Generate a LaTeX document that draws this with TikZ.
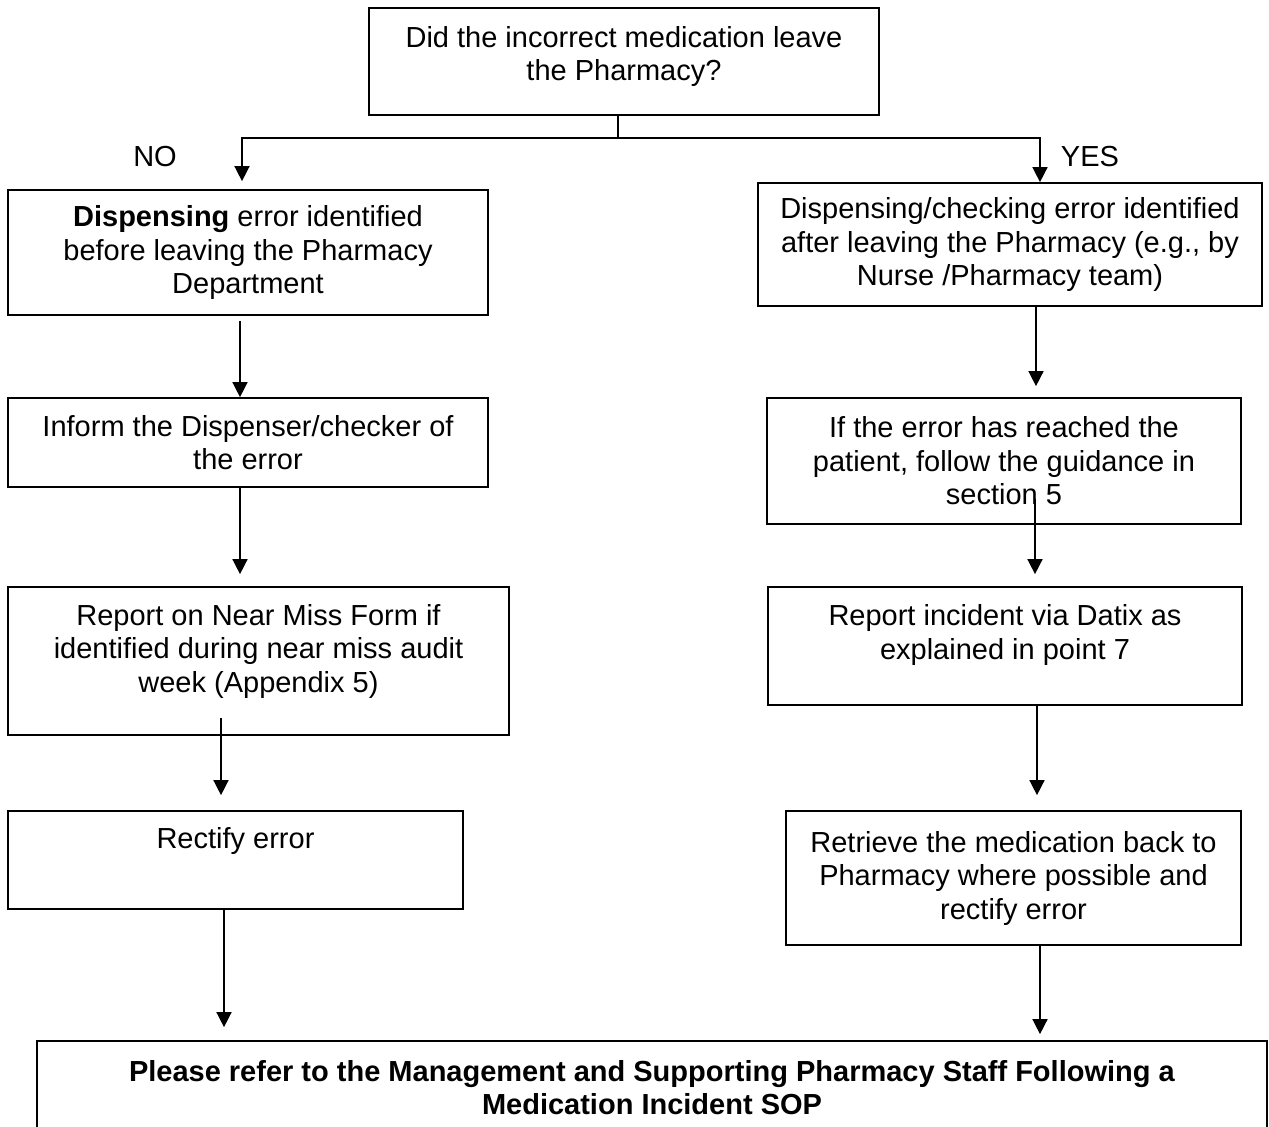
\documentclass[tikz,border=0pt]{standalone}
\usepackage{fontspec}
\setmainfont{Liberation Sans}
\usepackage{tikz}
\usetikzlibrary{arrows.meta}
\tikzset{>={Triangle[width=15pt,length=15pt]}}
\tikzset{
  flowbox/.style={draw, line width=1.7pt, align=center, inner sep=0pt,
    font=\fontsize{29}{33.5}\selectfont},
  branch/.style={font=\fontsize{29}{33.5}\selectfont}
}

\begin{document}
\begin{tikzpicture}[x=1pt,y=-1pt,line width=1.5pt]
  \useasboundingbox (0,0) rectangle (1269,1127);
  % Draw question box and branch labels
  \node[flowbox, minimum width=510pt, minimum height=107pt] (top) at (624,61.5)
    {Did the incorrect medication leave\\the Pharmacy?\\[-28pt]\strut};
  \node[branch] (no) at (155,157) {NO};
  \node[branch] (yes) at (1090,157) {YES};
  % Draw left column (error found before leaving)
  \node[flowbox, minimum width=480pt, minimum height=125pt] (L1) at (248,252.5)
    {\textbf{Dispensing} error identified\\before leaving the Pharmacy\\Department};
  \node[flowbox, minimum width=480pt, minimum height=89pt] (L2) at (248,442.5)
    {Inform the Dispenser/checker of\\the error};
  \node[flowbox, minimum width=501pt, minimum height=148pt] (L3) at (258.5,661)
    {Report on Near Miss Form if\\identified during near miss audit\\week (Appendix 5)\\[-18pt]\strut};
  \node[flowbox, minimum width=455pt, minimum height=98pt] (L4) at (235.5,860)
    {Rectify error\\\strut};
  % Draw right column (error found after leaving)
  \node[flowbox, minimum width=504pt, minimum height=123pt] (R1) at (1010,244.5)
    {Dispensing/checking error identified\\after leaving the Pharmacy (e.g., by\\Nurse /Pharmacy team)};
  \node[flowbox, minimum width=474pt, minimum height=126pt] (R2) at (1004,461)
    {If the error has reached the\\patient, follow the guidance in\\section 5};
  \node[flowbox, minimum width=474pt, minimum height=118pt] (R3) at (1005,646)
    {Report incident via Datix as\\explained in point 7\\[-16pt]\strut};
  \node[flowbox, minimum width=455pt, minimum height=134pt] (R4) at (1013.5,878)
    {Retrieve the medication back to\\Pharmacy where possible and\\rectify error};
  % Draw the closing box
  \node[flowbox, minimum width=1230pt, minimum height=93pt] (sop) at (652,1087.5)
    {\textbf{Please refer to the Management and Supporting Pharmacy Staff Following a}\\
     \textbf{Medication Incident SOP}};
  % Draw the split under the question
  \coordinate (split) at (618,138);
  \coordinate (cNo) at (242,0);
  \coordinate (cYes) at (1040,0);
  \draw (split |- top.south) -- (split);
  \draw[->, shorten >=8pt] (split) -| (L1.north -| cNo);
  \draw[->] (split) -| (R1.north -| cYes);
  % Draw arrows down each column
  \foreach \from/\to/\xpos/\sfrom/\sto in {
      L1/L2/240/5/0, L2/L3/240/0/12, L3/L4/221/-18/15, L4/sop/224/0/13,
      R1/R2/1036/0/11, R2/R3/1035/-26/12, R3/R4/1037/0/15, R4/sop/1040/0/6} {
    \coordinate (col) at (\xpos,0);
    \draw[->, shorten <=\sfrom pt, shorten >=\sto pt] (\from.south -| col) -- (\to.north -| col);
  }
\end{tikzpicture}
\end{document}
